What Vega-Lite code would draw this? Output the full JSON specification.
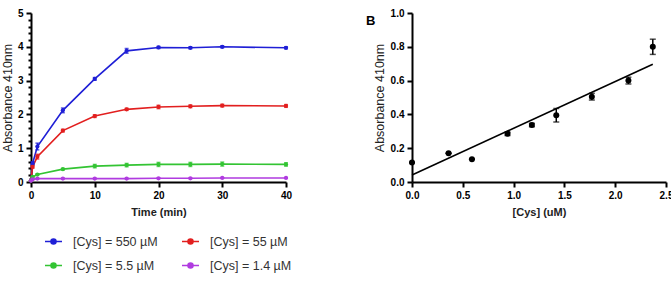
{
  "$schema": "https://vega.github.io/schema/vega-lite/v6.json",
  "padding": {"left": 1, "top": 8, "right": 0, "bottom": 0},
  "background": "white",
  "spacing": 126,
  "bounds": "flush",
  "datasets": {
    "kinetics": [
      {"s": "[Cys] = 550 µM", "t": 0, "v": 0.05, "e": 0.02},
      {"s": "[Cys] = 550 µM", "t": 0.25, "v": 0.55, "e": 0.05},
      {"s": "[Cys] = 550 µM", "t": 1, "v": 1.05, "e": 0.1},
      {"s": "[Cys] = 550 µM", "t": 5, "v": 2.12, "e": 0.07},
      {"s": "[Cys] = 550 µM", "t": 10, "v": 3.05, "e": 0.04},
      {"s": "[Cys] = 550 µM", "t": 15, "v": 3.88, "e": 0.07},
      {"s": "[Cys] = 550 µM", "t": 20, "v": 3.98, "e": 0.03},
      {"s": "[Cys] = 550 µM", "t": 25, "v": 3.97, "e": 0.03},
      {"s": "[Cys] = 550 µM", "t": 30, "v": 4.0, "e": 0.03},
      {"s": "[Cys] = 550 µM", "t": 40, "v": 3.97, "e": 0.03},
      {"s": "[Cys] = 55 µM", "t": 0, "v": 0.05, "e": 0.02},
      {"s": "[Cys] = 55 µM", "t": 0.25, "v": 0.45, "e": 0.04},
      {"s": "[Cys] = 55 µM", "t": 1, "v": 0.75, "e": 0.07},
      {"s": "[Cys] = 55 µM", "t": 5, "v": 1.52, "e": 0.04},
      {"s": "[Cys] = 55 µM", "t": 10, "v": 1.95, "e": 0.04},
      {"s": "[Cys] = 55 µM", "t": 15, "v": 2.15, "e": 0.03},
      {"s": "[Cys] = 55 µM", "t": 20, "v": 2.22, "e": 0.05},
      {"s": "[Cys] = 55 µM", "t": 25, "v": 2.24, "e": 0.04},
      {"s": "[Cys] = 55 µM", "t": 30, "v": 2.26, "e": 0.04},
      {"s": "[Cys] = 55 µM", "t": 40, "v": 2.25, "e": 0.04},
      {"s": "[Cys] = 5.5 µM", "t": 0, "v": 0.05, "e": 0.02},
      {"s": "[Cys] = 5.5 µM", "t": 0.25, "v": 0.15, "e": 0.02},
      {"s": "[Cys] = 5.5 µM", "t": 1, "v": 0.22, "e": 0.02},
      {"s": "[Cys] = 5.5 µM", "t": 5, "v": 0.38, "e": 0.02},
      {"s": "[Cys] = 5.5 µM", "t": 10, "v": 0.47, "e": 0.05},
      {"s": "[Cys] = 5.5 µM", "t": 15, "v": 0.5, "e": 0.05},
      {"s": "[Cys] = 5.5 µM", "t": 20, "v": 0.52, "e": 0.06},
      {"s": "[Cys] = 5.5 µM", "t": 25, "v": 0.52, "e": 0.06},
      {"s": "[Cys] = 5.5 µM", "t": 30, "v": 0.53, "e": 0.06},
      {"s": "[Cys] = 5.5 µM", "t": 40, "v": 0.52, "e": 0.05},
      {"s": "[Cys] = 1.4 µM", "t": 0, "v": 0.04, "e": 0.01},
      {"s": "[Cys] = 1.4 µM", "t": 0.25, "v": 0.08, "e": 0.01},
      {"s": "[Cys] = 1.4 µM", "t": 1, "v": 0.1, "e": 0.01},
      {"s": "[Cys] = 1.4 µM", "t": 5, "v": 0.1, "e": 0.01},
      {"s": "[Cys] = 1.4 µM", "t": 10, "v": 0.1, "e": 0.01},
      {"s": "[Cys] = 1.4 µM", "t": 15, "v": 0.1, "e": 0.01},
      {"s": "[Cys] = 1.4 µM", "t": 20, "v": 0.11, "e": 0.01},
      {"s": "[Cys] = 1.4 µM", "t": 25, "v": 0.11, "e": 0.01},
      {"s": "[Cys] = 1.4 µM", "t": 30, "v": 0.12, "e": 0.01},
      {"s": "[Cys] = 1.4 µM", "t": 40, "v": 0.12, "e": 0.01}
    ],
    "calib": [
      {"c": 0.0, "a": 0.115, "e": 0.0},
      {"c": 0.36, "a": 0.17, "e": 0.0},
      {"c": 0.59, "a": 0.135, "e": 0.0},
      {"c": 0.94, "a": 0.285, "e": 0.01},
      {"c": 1.18, "a": 0.337, "e": 0.01},
      {"c": 1.42, "a": 0.395, "e": 0.04},
      {"c": 1.77, "a": 0.505, "e": 0.02},
      {"c": 2.13, "a": 0.6, "e": 0.02},
      {"c": 2.37, "a": 0.8, "e": 0.045}
    ],
    "fit": [
      {"c": 0.0, "a": 0.041},
      {"c": 2.37, "a": 0.697}
    ]
  },
  "hconcat": [
    {
      "width": 255,
      "height": 169,
      "data": {"name": "kinetics"},
      "encoding": {
        "x": {
          "field": "t", "type": "quantitative",
          "scale": {"domain": [0, 40], "nice": false},
          "axis": {"values": [0, 10, 20, 30, 40], "title": "Time (min)", "labelFlush": false}
        },
        "y": {
          "field": "v", "type": "quantitative",
          "scale": {"domain": [0, 5], "nice": false},
          "axis": {
            "title": "Absorbance 410nm",
            "titlePadding": 3,
            "format": ".0f",
            "values": [0, 0.2, 0.4, 0.6, 0.8, 1, 1.2, 1.4, 1.6, 1.8, 2, 2.2, 2.4, 2.6, 2.8, 3, 3.2, 3.4, 3.6, 3.8, 4, 4.2, 4.4, 4.6, 4.8, 5],
            "labelExpr": "datum.value % 1 === 0 ? datum.label : ''",
            "labelOverlap": false,
            "tickSize": {"condition": {"test": "datum.value % 1 !== 0", "value": 3}, "value": 5}
          }
        },
        "color": {
          "field": "s", "type": "nominal",
          "scale": {
            "domain": ["[Cys] = 550 µM", "[Cys] = 55 µM", "[Cys] = 5.5 µM", "[Cys] = 1.4 µM"],
            "range": ["#1f1fd6", "#e21f1f", "#33c433", "#b03be0"]
          },
          "legend": {
            "orient": "bottom",
            "title": null,
            "columns": 2,
            "columnPadding": 21,
            "rowPadding": 8,
            "offset": 2,
            "padding": 13,
            "symbolType": "M-1,0L1,0M-0.3,0A0.3,0.3,0,1,1,0.3,0A0.3,0.3,0,1,1,-0.3,0Z",
            "symbolSize": 289,
            "symbolStrokeWidth": 1.5,
            "symbolOpacity": 1,
            "labelFont": "Liberation Sans",
            "labelFontSize": 12.5,
            "labelColor": "#333333",
            "labelOffset": 10
          }
        }
      },
      "layer": [
        {
          "mark": {"type": "line", "strokeWidth": 1.6}
        },
        {
          "mark": {"type": "errorbar", "ticks": {"size": 4}, "thickness": 1.5},
          "encoding": {
            "yError": {"field": "e"}
          }
        },
        {
          "mark": {"type": "point", "filled": true, "opacity": 1, "size": 18}
        }
      ]
    },
    {
      "width": 254,
      "height": 169,
      "title": {
        "text": "B", "anchor": "start", "frame": "group", "dx": -46, "dy": 20,
        "offset": 0, "fontSize": 13, "fontWeight": "bold", "color": "black", "font": "Liberation Sans"
      },
      "encoding": {
        "x": {
          "field": "c", "type": "quantitative",
          "scale": {"domain": [0, 2.5], "nice": false},
          "axis": {"values": [0, 0.5, 1, 1.5, 2, 2.5], "format": ".1f", "title": "[Cys] (uM)", "labelFlush": false}
        },
        "y": {
          "field": "a", "type": "quantitative",
          "scale": {"domain": [0, 1], "nice": false},
          "axis": {"values": [0, 0.2, 0.4, 0.6, 0.8, 1], "format": ".1f", "title": "Absorbance 410nm"}
        }
      },
      "layer": [
        {
          "data": {"name": "fit"},
          "mark": {"type": "line", "color": "black", "strokeWidth": 1.6}
        },
        {
          "data": {"name": "calib"},
          "mark": {"type": "errorbar", "ticks": {"size": 6}, "thickness": 1.5, "color": "black"},
          "encoding": {"yError": {"field": "e"}}
        },
        {
          "data": {"name": "calib"},
          "mark": {"type": "point", "filled": true, "opacity": 1, "size": 36, "color": "black"}
        }
      ]
    }
  ],
  "config": {
    "view": {"stroke": null},
    "axis": {
      "grid": false,
      "domainColor": "black",
      "domainWidth": 2,
      "tickColor": "black",
      "tickWidth": 2,
      "tickSize": 5,
      "labelFont": "Liberation Sans",
      "labelFontSize": 10,
      "labelFontWeight": "bold",
      "labelColor": "black",
      "labelPadding": 3,
      "titleFont": "Liberation Sans",
      "titleColor": "#222222"
    },
    "axisX": {"titleFontSize": 11, "titleFontWeight": "bold", "titlePadding": 6},
    "axisY": {"titleFontSize": 12.5, "titleFontWeight": "normal", "titlePadding": 4}
  }
}
